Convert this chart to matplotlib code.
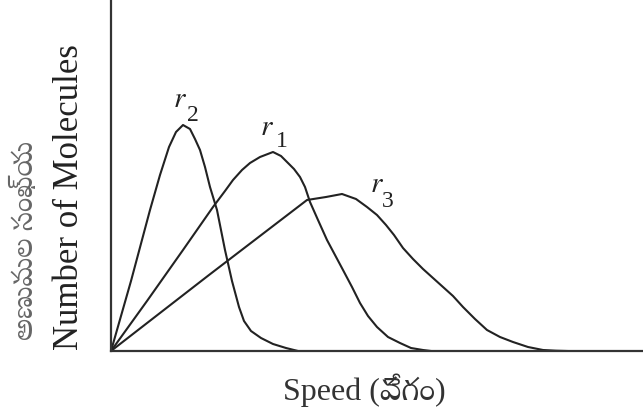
import numpy as np
import matplotlib
matplotlib.use("Agg")
import matplotlib.pyplot as plt

plt.rcParams["mathtext.fontset"] = "stix"

# curve points (speed, number of molecules)
r2_x = [0, 20, 39, 49, 58, 65, 72, 79, 84, 89, 94, 99, 106, 114, 121, 128, 133, 140, 150, 162, 175, 187]
r2_y = [0, 70, 141, 176, 204, 219, 226, 222, 212, 201, 184, 164, 141, 101, 70, 44, 30, 20, 13, 7, 3, 0]
r1_x = [0, 36, 72, 102, 114, 122, 131, 139, 149, 162, 170, 176, 183, 189, 194, 199, 207, 216, 224,
        232, 241, 249, 257, 266, 277, 289, 300, 312, 320]
r1_y = [0, 50, 101, 144, 160, 171, 181, 188, 194, 199, 195, 189, 182, 174, 164, 149, 131, 111, 96,
        81, 64, 48, 35, 24, 14, 8, 3, 1, 0]
r3_x = [0, 98, 196, 215, 231, 245, 256, 266, 275, 283, 292, 302, 312, 322, 332, 342, 352, 364, 376,
        389, 402, 417, 432, 445, 456]
r3_y = [0, 76, 151, 154, 157, 152, 144, 136, 126, 116, 103, 92, 82, 73, 64, 55, 44, 32, 21,
        14, 9, 4, 1, 0.3, 0]

curve_names = ["2", "1", "3"]

ylabel_te = "అణువుల సంఖ్య"
ylabel_en = "Number of Molecules"
xlabel = "Speed (వేగం)"

serif = ["Liberation Serif", "Noto Serif Telugu", "Noto Sans Telugu", "DejaVu Sans"]

fig = plt.figure(figsize=(6.43, 4.19), dpi=100)
ax = fig.add_axes([111/643, 68/419, 532/643, 351/419])
for xs, ys in [(r2_x, r2_y), (r1_x, r1_y), (r3_x, r3_y)]:
    ax.plot(xs, ys, color="#222222", lw=1.5, solid_joinstyle="round")
ax.set_xlim(0, 532)
ax.set_ylim(0, 351)
ax.set_xticks([])
ax.set_yticks([])
for s in ["top", "right"]:
    ax.spines[s].set_visible(False)
for s in ["left", "bottom"]:
    ax.spines[s].set_linewidth(1.6)
    ax.spines[s].set_color("#333333")

# curve labels: italic r with a dropped subscript
r_pos = [(62, 244), (149, 216), (259, 159)]
sub_pos = [(76, 230), (165, 204), (271, 144)]
for name, rp, sp in zip(curve_names, r_pos, sub_pos):
    ax.text(rp[0], rp[1], "$r$", fontsize=21, color="#222222", ha="left", va="baseline")
    ax.text(sp[0], sp[1], name, fontsize=17, color="#222222", family=serif,
            ha="left", va="baseline")

fig.text(25/643, 1 - 241/419, ylabel_te, rotation=90, ha="center", va="center",
         fontsize=21, color="#666666", family=serif)
fig.text(70/643, 1 - 197/419, ylabel_en, rotation=90, ha="center", va="center",
         fontsize=25, color="#222222", family=serif)
fig.text(364/643, 1 - 390/419, xlabel, ha="center", va="center",
         fontsize=23, color="#333333", family=serif)

fig.savefig("out.png")
